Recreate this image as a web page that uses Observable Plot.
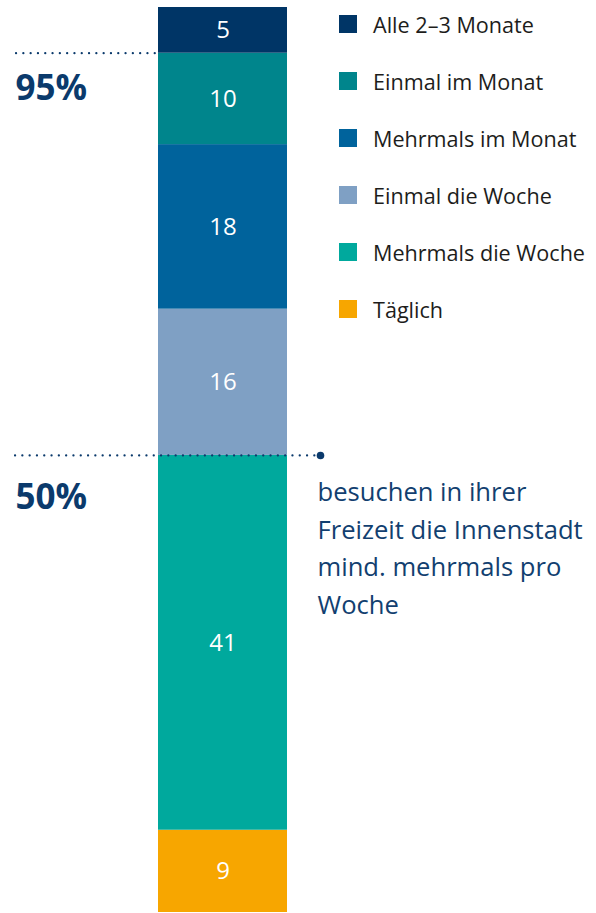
<!DOCTYPE html>
<html>
<head>
<meta charset="utf-8">
<script src="https://cdn.jsdelivr.net/npm/d3@7"></script>
<script src="https://cdn.jsdelivr.net/npm/@observablehq/plot@0.6"></script>
<style>
  html, body { margin: 0; padding: 0; background: #fff; }
  #wrap { position: relative; width: 596px; height: 913px; font-family: "Open Sans", sans-serif; }
  #legend { position: absolute; left: 339px; top: -4.5px; }
  .item { display: flex; align-items: center; height: 57px; font-size: 21.6px; color: #1d1d1b; white-space: nowrap; }
  .sw { width: 18px; height: 18px; margin-right: 16px; flex: none; }
</style>
</head>
<body>
<div id="wrap"></div>
<script>
// Data (bottom to top of the stack)
const categories = ["Täglich", "Mehrmals die Woche", "Einmal die Woche", "Mehrmals im Monat", "Einmal im Monat", "Alle 2–3 Monate"];
const values = [9, 41, 16, 18, 10, 5];
const colors = ["#f7a600", "#00a99d", "#7fa0c4", "#00639c", "#00858c", "#003566"];
const legendOrder = ["Alle 2–3 Monate", "Einmal im Monat", "Mehrmals im Monat", "Einmal die Woche", "Mehrmals die Woche", "Täglich"];
const refLines = [94, 50];
const refLabels = ["95%", "50%"];
const note = "besuchen in ihrer\nFreizeit die Innenstadt\nmind. mehrmals pro\nWoche";

const data = categories.map((c, i) => ({bar: "Freizeit", category: c, value: values[i]}));
const navy = "#0b3a6c";

const chart = Plot.plot({
  width: 596,
  height: 913,
  marginLeft: 158,
  marginRight: 309,
  marginTop: 7,
  marginBottom: 1,
  style: {fontFamily: "Open Sans, sans-serif", background: "white"},
  x: {type: "band", domain: ["Freizeit"], padding: 0, axis: null},
  y: {domain: [0, 99], axis: null},
  color: {domain: categories, range: colors},
  marks: [
    Plot.barY(data, {x: "bar", y: "value", fill: "category", order: null}),
    Plot.text(data, Plot.stackY({x: "bar", y: "value", text: (d) => String(d.value), fill: "white", fontSize: 24, order: null})),
    // 95% reference line (left of bar)
    Plot.ruleY([refLines[0]], {stroke: navy, strokeWidth: 2.2, strokeDasharray: "0.1 7.2", strokeLinecap: "round", insetLeft: -142, insetRight: 132}),
    // 50% reference line (across bar)
    Plot.ruleY([refLines[1]], {stroke: navy, strokeWidth: 2.2, strokeDasharray: "0.1 7.2", strokeLinecap: "round", insetLeft: -143, insetRight: -33}),
    Plot.dot([refLines[1]], {y: (d) => d, frameAnchor: "right", dx: 33, r: 3.8, fill: navy, stroke: null}),
    Plot.text([refLabels[0]], {y: () => refLines[0], text: (d) => d, frameAnchor: "left", dx: -143, dy: 36, textAnchor: "start", fontSize: 35, fontWeight: "bold", fill: navy}),
    Plot.text([refLabels[1]], {y: () => refLines[1], text: (d) => d, frameAnchor: "left", dx: -143, dy: 42, textAnchor: "start", fontSize: 35, fontWeight: "bold", fill: navy}),
    Plot.text([note], {y: () => refLines[1], text: (d) => d, frameAnchor: "right", dx: 30, dy: 19, textAnchor: "start", lineAnchor: "top", lineHeight: 1.47, fontSize: 25.6, fill: "#123f70"})
  ]
});

const wrap = document.getElementById("wrap");
wrap.appendChild(chart);
const legend = document.createElement("div");
legend.id = "legend";
legendOrder.forEach((c) => {
  const item = document.createElement("div");
  item.className = "item";
  const sw = document.createElement("span");
  sw.className = "sw";
  sw.style.background = colors[categories.indexOf(c)];
  const t = document.createElement("span");
  t.textContent = c;
  item.appendChild(sw);
  item.appendChild(t);
  legend.appendChild(item);
});
wrap.appendChild(legend);
</script>
</body>
</html>
